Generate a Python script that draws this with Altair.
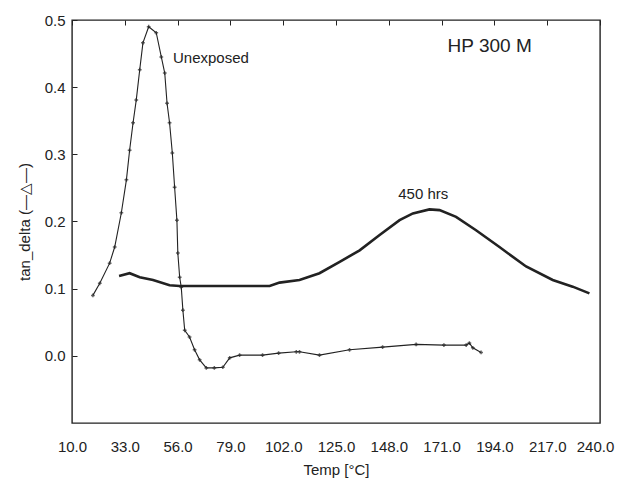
import altair as alt
import pandas as pd

# Unexposed sample (thin line with + markers)
unexp_x = [19.1, 22.1, 26.4, 28.6, 31.5, 33.7, 35.1, 36.6, 38.0, 39.5, 40.9, 43.4,
           46.7, 48.9, 50.4, 51.4, 52.5, 53.7, 54.7, 55.7, 56.1, 56.9, 57.6, 58.3,
           59.1, 61.2, 63.4, 65.6, 68.5, 72.0, 75.7, 78.7, 83.0, 93.0, 100.0, 107.7,
           109.1, 117.8, 130.9, 145.3, 159.9, 172.0, 181.7, 183.1, 184.6, 188.2]
unexp_y = [0.090, 0.108, 0.138, 0.162, 0.213, 0.262, 0.306, 0.347, 0.381, 0.426, 0.466, 0.490,
           0.481, 0.445, 0.421, 0.376, 0.347, 0.302, 0.251, 0.202, 0.153, 0.117, 0.102, 0.068,
           0.038, 0.028, 0.009, -0.006, -0.018, -0.018, -0.017, -0.003, 0.001, 0.001, 0.004, 0.006,
           0.006, 0.001, 0.009, 0.013, 0.017, 0.016, 0.016, 0.019, 0.012, 0.005]

# 450 hrs exposed sample (thick line)
h450_x = [30.5, 35.1, 39.5, 45.3, 52.5, 56.9, 70.0, 85.0, 96.1, 100.4, 109.1, 117.8,
          126.6, 135.3, 144.0, 152.7, 158.5, 165.7, 170.1, 177.3, 186.0, 196.2, 207.8,
          219.4, 228.1, 235.4]
h450_y = [0.119, 0.123, 0.117, 0.113, 0.105, 0.104, 0.104, 0.104, 0.104, 0.109, 0.113, 0.123,
          0.140, 0.157, 0.180, 0.202, 0.212, 0.218, 0.217, 0.207, 0.187, 0.162, 0.133,
          0.113, 0.103, 0.093]

x_ticks = [10, 33, 56, 79, 102, 125, 148, 171, 194, 217, 240]
y_ticks = [0.0, 0.1, 0.2, 0.3, 0.4, 0.5]

note_text = ["HP 300 M", "Unexposed", "450 hrs"]
note_x = [173.6, 54.0, 152.1]
note_y = [0.462, 0.444, 0.241]
note_size = [19, 15, 15]

FONT = "Liberation Sans"
INK = "#222222"

df_u = pd.DataFrame({"t": unexp_x, "v": unexp_y, "o": range(len(unexp_x))})
df_h = pd.DataFrame({"t": h450_x, "v": h450_y, "o": range(len(h450_x))})
df_n = pd.DataFrame({"t": note_x, "v": note_y, "txt": note_text, "s": note_size})

xs = alt.Scale(domain=[10, 240], nice=False, zero=False)
ys = alt.Scale(domain=[-0.1, 0.5], nice=False, zero=False)

# inward ticks are drawn as short dashes at the start of each grid line
x_lab = alt.X("t:Q", scale=xs, axis=alt.Axis(
    values=x_ticks, format=".1f", title="Temp [°C]", orient="bottom",
    domain=False, ticks=False, tickSize=0, labelPadding=16,
    grid=True, gridDash=[5, 2000], gridColor=INK, gridWidth=1, gridOpacity=1,
    labelOverlap=False, labelFlush=False,
    labelOffset={"condition": {"test": "datum.value === 240", "value": -5}, "value": 0},
    labelFont=FONT, labelFontSize=15, labelColor=INK, titleFont=FONT,
    titleFontSize=15, titleFontWeight="normal", titleColor=INK, titlePadding=8))
y_lab = alt.Y("v:Q", scale=ys, axis=alt.Axis(
    values=y_ticks, format=".1f", title="tan_delta (—△—)", orient="left",
    domain=False, ticks=False, tickSize=0, labelPadding=7,
    grid=True, gridDash=[5, 2000], gridColor=INK, gridWidth=1, gridOpacity=1,
    labelOverlap=False, labelFlush=False,
    labelFont=FONT, labelFontSize=15, labelColor=INK, titleFont=FONT,
    titleFontSize=15, titleFontWeight="normal", titleColor=INK, titlePadding=12))

line_u = alt.Chart(df_u).mark_line(color=INK, strokeWidth=1.1).encode(
    x=x_lab, y=y_lab, order="o:Q")
pts_u = alt.Chart(df_u).mark_point(shape="cross", size=14, filled=True, color=INK).encode(
    x="t:Q", y="v:Q")
line_h = alt.Chart(df_h).mark_line(color=INK, strokeWidth=2.6).encode(
    x="t:Q", y="v:Q", order="o:Q")
notes = alt.Chart(df_n).mark_text(align="left", baseline="middle", font=FONT, color=INK).encode(
    x="t:Q", y="v:Q", text="txt:N", size=alt.Size("s:Q", scale=None, legend=None))

chart = alt.layer(line_u, pts_u, line_h, notes).properties(
    width=528, height=403,
    background="white",
    autosize=alt.AutoSizeParams(type="none"),
    padding={"left": 64, "top": 12, "right": 15, "bottom": 57},
).configure_view(stroke="#222222", strokeWidth=1.4)

chart.save("out.html", embed_options={"renderer": "svg", "actions": False})
